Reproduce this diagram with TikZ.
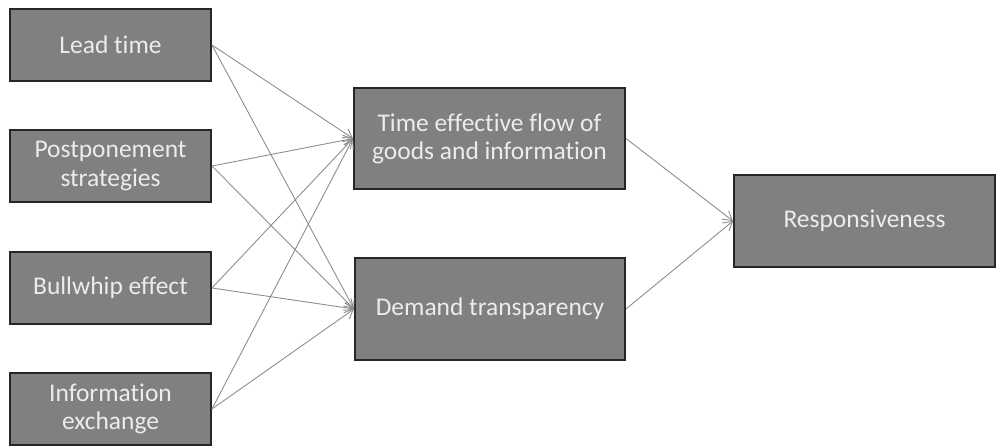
\documentclass[tikz,border=0pt]{standalone}
\usepackage{fontspec}
\setmainfont[Ligatures=NoCommon]{Carlito}
\definecolor{boxgray}{RGB}{128, 128, 128}
\definecolor{edgegray}{RGB}{38, 38, 38}
\definecolor{linkgray}{RGB}{140, 140, 140}
\definecolor{labelwhite}{RGB}{236, 236, 236}
\usetikzlibrary{arrows.meta, positioning}

\begin{document}
\begin{tikzpicture}[
  factor/.style={draw=edgegray, line width=1.1pt, fill=boxgray, text=labelwhite, align=center, inner sep=0pt, font=\fontsize{14.5}{16}\selectfont},
  link/.style={-{Straight Barb[length=5pt, width=6pt]}, draw=linkgray, line width=0.5pt}
]
  \useasboundingbox (0, 0) rectangle (19.94, 8.94);

  % Drivers
  \node[factor, minimum width=4.02cm, minimum height=1.44cm] (lead) at (2.21, 8.04) {Lead time};
  \node[factor, minimum width=4.02cm, minimum height=1.44cm] (post) at (2.21, 5.62) {Postponement\\strategies};
  \node[factor, minimum width=4.02cm, minimum height=1.44cm] (bull) at (2.21, 3.18) {Bullwhip effect};
  \node[factor, minimum width=4.02cm, minimum height=1.44cm] (info) at (2.21, 0.76) {Information\\exchange};

  % Intermediate effects
  \node[factor, minimum width=5.42cm, minimum height=2.02cm] (flow) at (9.79, 6.17) {Time effective flow of\\goods and information};
  \node[factor, minimum width=5.40cm, minimum height=2.04cm] (transp) at (9.80, 2.76) {Demand transparency};

  % Outcome
  \node[factor, minimum width=5.22cm, minimum height=1.84cm] (resp) at (17.29, 4.52) {Responsiveness};

  % Links
  \foreach \src in {lead, post, bull, info} {
    \draw[link] (\src.east) -- (flow.west);
    \draw[link] (\src.east) -- (transp.west);
  }
  \draw[link] (flow.east) -- (resp.west);
  \draw[link] (transp.east) -- (resp.west);
\end{tikzpicture}
\end{document}
